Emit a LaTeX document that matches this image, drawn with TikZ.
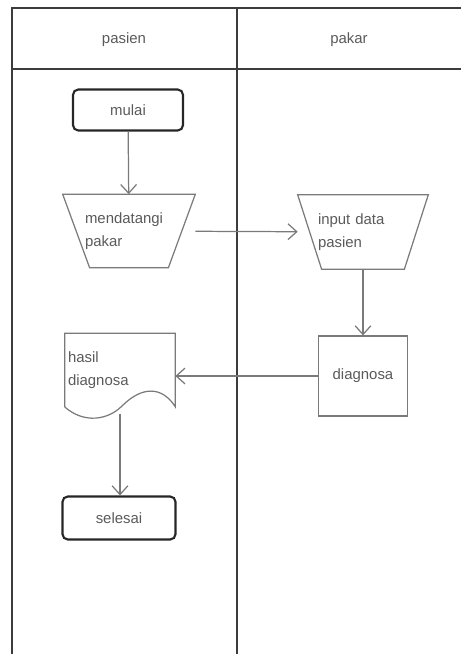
\documentclass[tikz,border=0pt]{standalone}
\usepackage{fontspec}
\setmainfont{Liberation Sans}
\usetikzlibrary{arrows.meta}

\definecolor{framegray}{HTML}{3C3C3C}
\definecolor{linegray}{HTML}{7A7A7A}
\definecolor{textgray}{HTML}{5A5A5A}

\tikzset{
  lane/.style={draw=framegray, line width=1.1pt},
  lanelabel/.style={text=textgray},
  terminal/.style={rectangle, draw=black!85, line width=1.2pt, rounded corners=3pt, text=textgray},
  process/.style={rectangle, draw=linegray, line width=0.7pt, text=textgray},
  box/.style={rectangle, inner sep=0pt, text=textgray, align=left},
  shapeline/.style={draw=linegray, line width=0.7pt},
  flow/.style={draw=linegray, line width=0.7pt, -{Straight Barb[length=5pt,width=9pt]}}
}

\begin{document}
\begin{tikzpicture}[x=0.02cm, y=-0.02cm, every node/.style={font=\fontsize{8.5}{13}\selectfont}]
\useasboundingbox (0,0) rectangle (461,654);

% lanes
\draw[lane] (12,654) -- (12,8) -- (461,8);
\draw[lane] (12,69) -- (461,69);
\draw[lane] (237,8) -- (237,654);
\node[lanelabel] (lpasien) at (124,40) {pasien};
\node[lanelabel] (lpakar) at (349,40) {pakar};

% pasien
\node[terminal, minimum width=2.2cm, minimum height=0.82cm] (mulai) at (128,110) {mulai};
\node[box, minimum width=2.64cm, minimum height=1.46cm, text width=1.76cm] (mendatangi) at (129,231) {mendatangi\\pakar};
\draw[shapeline] (mendatangi.north west) -- (mendatangi.north east) -- ([xshift=-0.54cm]mendatangi.south east) -- ([xshift=0.54cm]mendatangi.south west) -- cycle;
\node[box, minimum width=2.2cm, minimum height=1.46cm, text width=2.08cm] (hasil) at (120,370) {hasil\\diagnosa};
\draw[shapeline] (hasil.south west) -- (hasil.north west) -- (hasil.north east) -- (hasil.south east)
  .. controls (162,386) and (142,386) .. (122,406) .. controls (108,420) and (84,424) .. (hasil.south west);
\coordinate (hasilbot) at ([yshift=-0.14cm]hasil.south);
\node[terminal, minimum width=2.26cm, minimum height=0.86cm] (selesai) at (119,518) {selesai};

% pakar
\node[box, minimum width=2.6cm, minimum height=1.48cm, text width=1.8cm] (input) at (363,232) {input data\\pasien};
\draw[shapeline] (input.north west) -- (input.north east) -- ([xshift=-0.48cm]input.south east) -- ([xshift=0.48cm]input.south west) -- cycle;
\node[process, minimum width=1.78cm, minimum height=1.6cm] (diagnosa) at (363,376) {diagnosa};

% flows
\draw[flow] (mulai) -- (mendatangi);
\draw[flow] (mendatangi) -- (input);
\draw[flow] (input) -- (diagnosa);
\draw[flow] (diagnosa.west) -- (diagnosa.west -| hasil.east);
\draw[flow] (hasilbot) -- (hasilbot |- selesai.north);
\end{tikzpicture}
\end{document}
